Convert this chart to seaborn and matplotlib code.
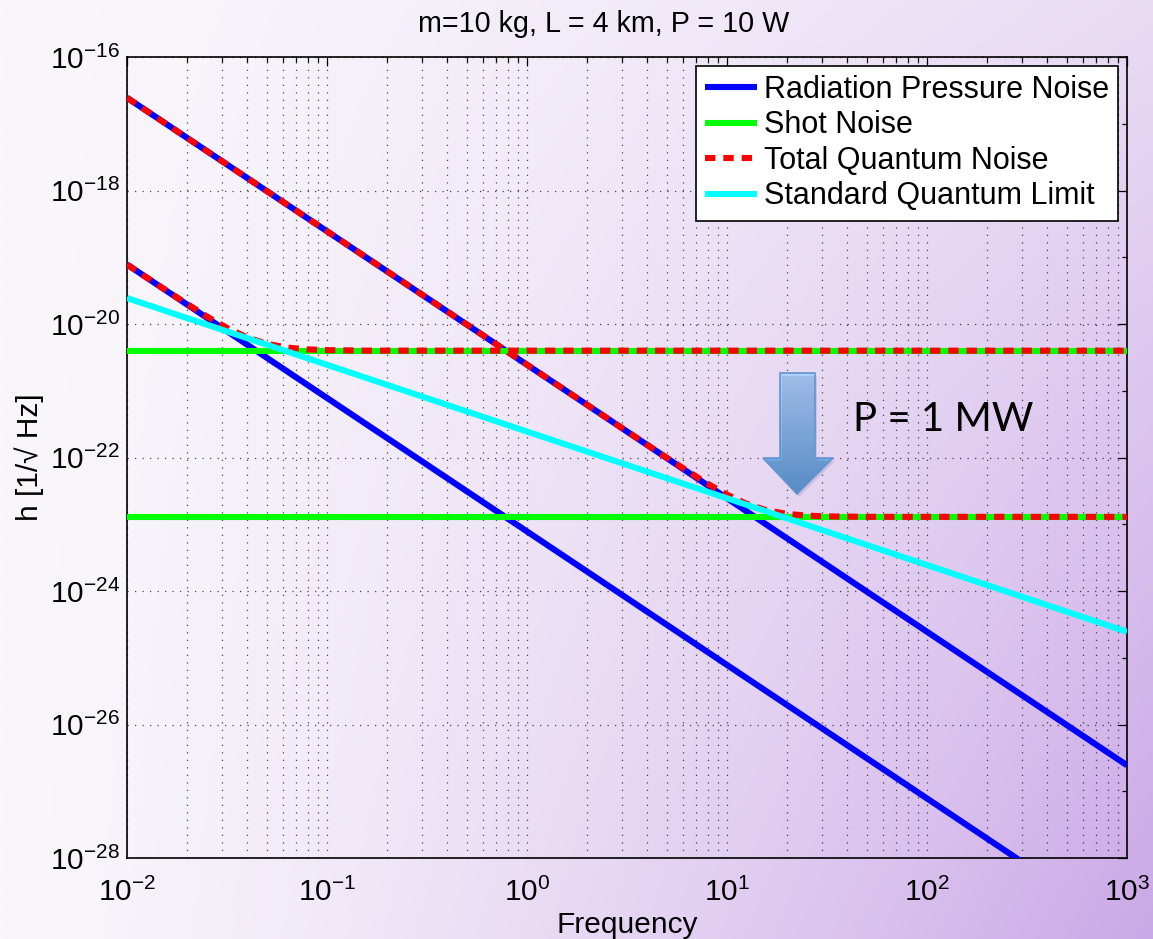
import numpy as np
import pandas as pd
import matplotlib
matplotlib.use("Agg")
import matplotlib.pyplot as plt
import seaborn as sns
from matplotlib.ticker import FixedLocator, FuncFormatter, NullFormatter, LogLocator
from matplotlib.patches import Polygon

# ---------------- data ----------------
freq_edges = [1e-2, 1e3]
rp_10W = [7.8e-20, 7.8e-30]
rp_1MW = [2.45e-17, 2.45e-27]
shot_10W = [3.98e-21, 3.98e-21]
shot_1MW = [1.29e-23, 1.29e-23]
sql = [2.45e-20, 2.45e-25]

total_10W_freq = [0.01, 0.01585, 0.02512, 0.03162, 0.03981, 0.05012, 0.0631,
                  0.0794, 0.1, 0.1585, 1000]
total_10W = [7.78e-20, 3.12e-20, 1.294e-20, 8.73e-21, 6.31e-21, 5.04e-21,
             4.44e-21, 4.17e-21, 4.06e-21, 3.99e-21, 3.98e-21]
total_1MW_freq = [0.01, 3.126, 4.955, 7.85, 9.89, 12.45, 15.67, 19.72, 24.83,
                  31.26, 49.5, 1000]
total_1MW = [2.45e-17, 2.518e-22, 1.009e-22, 4.19e-23, 2.825e-23, 2.04e-23,
             1.629e-23, 1.435e-23, 1.349e-23, 1.312e-23, 1.291e-23, 1.29e-23]

legend_labels = ["Radiation Pressure Noise", "Shot Noise",
                 "Total Quantum Noise", "Standard Quantum Limit"]
title_text = "m=10 kg, L = 4 km, P = 10 W"
xlabel_text = "Frequency"
ylabel_text = "h [1/\u221a Hz]"
note_text = "P = 1 MW"
x_tick_exponents = [-2, -1, 0, 1, 2, 3]
y_tick_exponents = [-28, -26, -24, -22, -20, -18, -16]

# ---------------- style ----------------
sns.set_style("white")
plt.rcParams["font.family"] = ["Liberation Sans", "DejaVu Sans"]
plt.rcParams["mathtext.fontset"] = "custom"
plt.rcParams["mathtext.rm"] = "Liberation Sans"
plt.rcParams["mathtext.default"] = "regular"
plt.rcParams["text.color"] = "black"
plt.rcParams["axes.labelcolor"] = "black"
plt.rcParams["xtick.color"] = "black"
plt.rcParams["ytick.color"] = "black"

W, H = 1153, 939
fig = plt.figure(figsize=(W / 100, H / 100), dpi=100)
fig.patch.set_facecolor("white")

# background gradient
bg = fig.add_axes([0, 0, 1, 1], zorder=-10)
gx = np.linspace(0, 1, 240)[None, :]
gy = np.linspace(0, 1, 200)[:, None]
t = (gx ** 1.35) * (0.35 + 0.65 * gy)
light = np.array([249, 247, 251]) / 255
dark = np.array([203, 168, 231]) / 255
grad = light[None, None, :] + t[:, :, None] * (dark - light)[None, None, :]
bg.imshow(grad, extent=[0, 1, 0, 1], aspect="auto", origin="upper",
          interpolation="bilinear")
bg.axis("off")

ax = fig.add_axes([127 / W, 1 - 858 / H, 1000 / W, 801 / H], zorder=1)
ax.patch.set_alpha(0)
ax.set_xscale("log")
ax.set_yscale("log")

lw = 4.4
blue, green, red, cyan = "#0000ff", "#00ff00", "#ff0000", "#00ffff"

def draw(x, y, color, z):
    df = pd.DataFrame({"f": x, "h": y})
    sns.lineplot(data=df, x="f", y="h", ax=ax, color=color, linewidth=lw,
                 legend=False, zorder=z, sort=False)
    line = ax.lines[-1]
    line.set_solid_capstyle("butt")
    return line

h_rp = draw(freq_edges, rp_10W, blue, 3)
draw(freq_edges, rp_1MW, blue, 3)
h_sn = draw(freq_edges, shot_10W, green, 4)
draw(freq_edges, shot_1MW, green, 4)
h_tot = draw(total_10W_freq, total_10W, red, 5)
h_tot.set_dashes([1.7, 1.3])
l2 = draw(total_1MW_freq, total_1MW, red, 5)
l2.set_dashes([1.7, 1.3])
h_sql = draw(freq_edges, sql, cyan, 6)

ax.set_xlim(1e-2, 1e3)
ax.set_ylim(1e-28, 1e-16)

fmt = FuncFormatter(lambda v, p: "$10^{%d}$" % int(round(np.log10(v))))
ax.xaxis.set_major_locator(FixedLocator([10.0 ** e for e in x_tick_exponents]))
ax.xaxis.set_minor_locator(LogLocator(base=10, subs=np.arange(2, 10), numticks=100))
ax.xaxis.set_major_formatter(fmt)
ax.xaxis.set_minor_formatter(NullFormatter())
ax.yaxis.set_major_locator(FixedLocator([10.0 ** e for e in y_tick_exponents]))
ax.yaxis.set_minor_locator(FixedLocator([10.0 ** e for e in range(-27, -16, 2)]))
ax.yaxis.set_major_formatter(fmt)
ax.yaxis.set_minor_formatter(NullFormatter())

ax.tick_params(which="both", direction="in", top=True, right=True,
               colors="black", labelcolor="black", labelsize=21.5, width=0.9)
ax.tick_params(which="major", length=6.5)
ax.tick_params(which="minor", length=3.5)
ax.tick_params(axis="x", which="major", pad=14)
ax.tick_params(axis="y", which="major", pad=5)

gstyle = dict(color="black", linestyle=(0, (1, 5)), linewidth=0.9, alpha=0.7)
ax.grid(True, which="major", axis="both", **gstyle)
ax.grid(True, which="minor", axis="x", **gstyle)

for s in ax.spines.values():
    s.set_color("black")
    s.set_linewidth(1.2)
    s.set_visible(True)

ax.set_xlabel(xlabel_text, fontsize=21.5, labelpad=3, color="black")
ax.set_ylabel(ylabel_text, fontsize=21.5, labelpad=4, color="black")
fig.text(604 / W, 1 - 32 / H, title_text, ha="center", va="baseline",
         fontsize=20.7, color="black")

leg = ax.legend([h_rp, h_sn, h_tot, h_sql], legend_labels, loc="upper right",
                bbox_to_anchor=(0.991, 0.989), borderaxespad=0, fontsize=22,
                frameon=True, fancybox=False, framealpha=1, facecolor="white",
                edgecolor="black", handlelength=1.7, handletextpad=0.22,
                labelspacing=0.18, borderpad=0.3, labelcolor="black")
leg.get_frame().set_linewidth(1.2)

# overlay annotation (arrow + text) in pixel coordinates
ov = fig.add_axes([0, 0, 1, 1], zorder=5)
ov.set_xlim(0, W)
ov.set_ylim(H, 0)
ov.axis("off")
ov.patch.set_alpha(0)
arrow_pts = [(780, 373), (815, 373), (815, 458), (833, 458), (797, 494),
             (763, 458), (780, 458)]
shadow = Polygon([(x + 2, y + 3) for x, y in arrow_pts], closed=True,
                 facecolor=(0.3, 0.3, 0.4), edgecolor="none", alpha=0.15)
ov.add_patch(shadow)
clip = Polygon(arrow_pts, closed=True, facecolor="none", edgecolor="none")
ov.add_patch(clip)
ag = np.linspace(0, 1, 100)[:, None]
top_c = np.array([176, 208, 255]) / 255
bot_c = np.array([88, 152, 214]) / 255
agrad = top_c[None, None, :] + ag[:, :, None] * (bot_c - top_c)[None, None, :]
agrad = np.repeat(agrad, 4, axis=1)
im = ov.imshow(agrad, extent=[763, 833, 494, 373], aspect="auto",
               interpolation="bilinear")
im.set_clip_path(clip)
ov.add_patch(Polygon(arrow_pts, closed=True, facecolor="none",
                     edgecolor=(0.38, 0.58, 0.82), linewidth=1.2))
ov.set_xlim(0, W)
ov.set_ylim(H, 0)
ov.text(853, 431, note_text, fontsize=29, family=["Lato", "DejaVu Sans"],
        ha="left", va="baseline", color="black")

fig.savefig("out.png", dpi=100)
